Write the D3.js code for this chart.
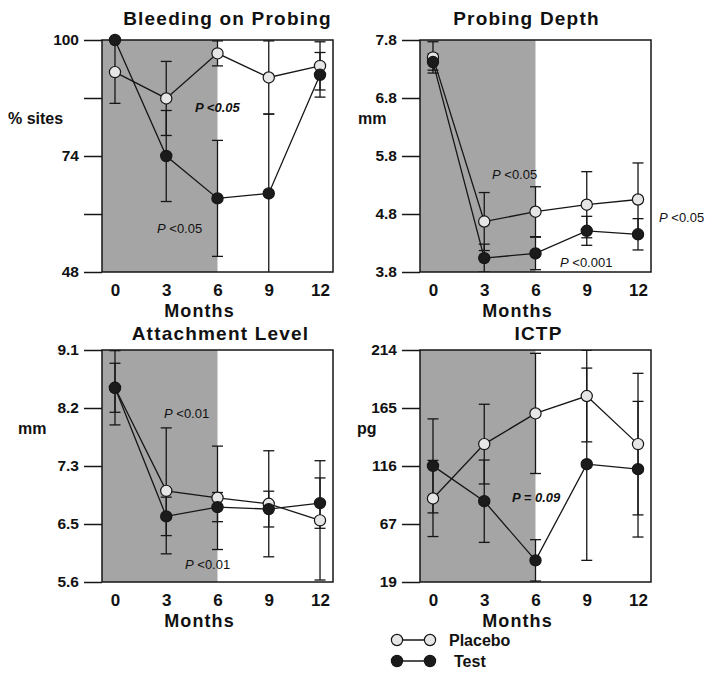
<!DOCTYPE html>
<html><head><meta charset="utf-8">
<script src="https://cdn.jsdelivr.net/npm/d3@7"></script>
<style>
body{margin:0;background:#fff}
svg{display:block}
text{font-family:"Liberation Sans",Arial,Helvetica,sans-serif;fill:#111}
</style>
</head><body>
<svg id="c" width="714" height="677"></svg>
<script>
// ---------------- data ----------------
const months = [0, 3, 6, 9, 12];
const xTickLabels = ["0", "3", "6", "9", "12"];

// Bleeding on Probing (% sites)
const bopPlacebo    = [92.8, 86.9, 97.0, 91.6, 94.2];
const bopPlaceboErr = [7.0, 8.3, 2.8, 8.2, 5.4];
const bopTest       = [100.0, 74.0, 64.5, 65.6, 92.2];
const bopTestErr    = [0, 10.2, 13.0, 17.8, 5.0];
const bopYTicks     = ["100", "", "74", "", "48"];
const bopNotes      = ["<0.05", "<0.05"];

// Probing Depth (mm)
const pdPlacebo    = [7.50, 4.67, 4.84, 4.96, 5.05];
const pdPlaceboErr = [0.27, 0.50, 0.43, 0.57, 0.63];
const pdTest       = [7.42, 4.04, 4.12, 4.51, 4.45];
const pdTestErr    = [0.14, 0.24, 0.28, 0.25, 0.27];
const pdYTicks     = ["7.8", "6.8", "5.8", "4.8", "3.8"];
const pdNotes      = ["<0.05", "<0.001", "<0.05"];

// Attachment Level (mm)
const alPlacebo    = [8.53, 6.975, 6.87, 6.78, 6.53];
const alPlaceboErr = [0.56, 0.95, 0.78, 0.80, 0.90];
const alTest       = [8.53, 6.59, 6.73, 6.70, 6.79];
const alTestErr    = [0.37, 0.29, 0.22, 0.27, 0.38];
const alYTicks     = ["9.1", "8.2", "7.3", "6.5", "5.6"];
const alNotes      = ["<0.01", "<0.01"];

// ICTP (pg)
const ictpPlacebo    = [89.2, 134.9, 160.7, 175.3, 134.9];
const ictpPlaceboErr = [32.0, 33.5, 50.5, 38.5, 59.5];
const ictpTest       = [116.6, 86.9, 37.2, 118.0, 113.8];
const ictpTestErr    = [39.5, 34.6, 17.4, 80.8, 57.0];
const ictpYTicks     = ["214", "165", "116", "67", "19"];
const ictpNotes      = ["= 0.09"];

const seriesNames = ["Placebo", "Test"];
const shadeUntil = 6;

// ---------------- chart ----------------
const panels = [
  {title: "Bleeding on Probing", yLabel: "% sites", domain: [48, 100], ticks: bopYTicks,
   placebo: bopPlacebo, placeboErr: bopPlaceboErr, test: bopTest, testErr: bopTestErr, notes: bopNotes},
  {title: "Probing Depth", yLabel: "mm", domain: [3.8, 7.8], ticks: pdYTicks,
   placebo: pdPlacebo, placeboErr: pdPlaceboErr, test: pdTest, testErr: pdTestErr, notes: pdNotes},
  {title: "Attachment Level", yLabel: "mm", domain: [5.6, 9.1], ticks: alYTicks,
   placebo: alPlacebo, placeboErr: alPlaceboErr, test: alTest, testErr: alTestErr, notes: alNotes},
  {title: "ICTP", yLabel: "pg", domain: [19, 214], ticks: ictpYTicks,
   placebo: ictpPlacebo, placeboErr: ictpPlaceboErr, test: ictpTest, testErr: ictpTestErr, notes: ictpNotes}
];

const layout = [
  {left: 102, top: 40, titleDx: 10, titleDy: -15, yLabelDx: -94,
   notes: [{dx: 93, dy: 72, allItalic: true, bold: true}, {dx: 55, dy: 193}]},
  {left: 420, top: 40, titleDx: -9, titleDy: -15, yLabelDx: -62,
   notes: [{dx: 72, dy: 139}, {dx: 140, dy: 227}, {dx: 239, dy: 182}]},
  {left: 102, top: 350, titleDx: 3, titleDy: -10.5, yLabelDx: -84,
   notes: [{dx: 62, dy: 67.5}, {dx: 83, dy: 219}]},
  {left: 420, top: 350, titleDx: 3, titleDy: -10.5, yLabelDx: -63,
   notes: [{dx: 92, dy: 151.5, allItalic: true, bold: true}]}
];

const W = 231, H = 232;
const xDomain = [-0.76, 12.76];
const ink = "#161616";
const shadeColor = "#a5a5a5";
const placeboFill = "#e6e6e6";
const testFill = "#1b1b1b";
const R = 5.6, CAP = 5.5;

const svg = d3.select("#c");
const defs = svg.append("defs");

panels.forEach((p, pi) => {
  const L = layout[pi];
  const g = svg.append("g").attr("transform", `translate(${L.left},${L.top})`);
  const x = d3.scaleLinear().domain(xDomain).range([0, W]);
  const y = d3.scaleLinear().domain(p.domain).range([H, 0]);

  const clipId = "clip" + pi;
  defs.append("clipPath").attr("id", clipId)
    .append("rect").attr("x", 0).attr("y", 0).attr("width", W).attr("height", H);

  // shaded treatment period
  g.append("rect")
    .attr("x", x(xDomain[0])).attr("y", 0)
    .attr("width", x(shadeUntil) - x(xDomain[0])).attr("height", H)
    .attr("fill", shadeColor);

  // frame
  g.append("rect").attr("x", 0).attr("y", 0).attr("width", W).attr("height", H)
    .attr("fill", "none").attr("stroke", ink).attr("stroke-width", 1.5);

  // y axis
  const n = p.ticks.length;
  const tv = d3.range(n).map(i => p.domain[1] - i * (p.domain[1] - p.domain[0]) / (n - 1));
  const yAxis = g.append("g").call(
    d3.axisLeft(y).tickValues(tv).tickSize(18).tickPadding(5).tickFormat((d, i) => p.ticks[i])
  );
  yAxis.select(".domain").remove();
  yAxis.selectAll(".tick line").attr("stroke", ink).attr("stroke-width", 1.5);
  yAxis.selectAll(".tick text").attr("font-size", 15.5).attr("font-weight", "bold")
    .attr("fill", "#111").style("font-family", '"Liberation Sans",Arial,sans-serif');

  // x axis (labels only)
  const xAxis = g.append("g").attr("transform", `translate(0,${H})`).call(
    d3.axisBottom(x).tickValues(months).tickSize(0).tickPadding(12).tickFormat((d, i) => xTickLabels[i])
  );
  xAxis.select(".domain").remove();
  xAxis.selectAll(".tick text").attr("font-size", 17).attr("font-weight", "bold")
    .attr("fill", "#111").style("font-family", '"Liberation Sans",Arial,sans-serif');

  g.append("text").attr("x", W / 2 - 18).attr("y", H + 45)
    .attr("text-anchor", "middle").attr("font-size", 18).attr("font-weight", "bold")
    .attr("letter-spacing", 1.1).text("Months");

  // title
  g.append("text").attr("x", W / 2 + L.titleDx).attr("y", L.titleDy)
    .attr("text-anchor", "middle").attr("font-size", 19).attr("font-weight", "bold")
    .attr("letter-spacing", 1.2).text(p.title);

  // y label
  g.append("text").attr("x", L.yLabelDx).attr("y", 78).attr("dy", "0.36em")
    .attr("font-size", 16).attr("font-weight", "bold").text(p.yLabel);

  const series = [
    {name: seriesNames[0], vals: p.placebo, errs: p.placeboErr, fill: placeboFill},
    {name: seriesNames[1], vals: p.test, errs: p.testErr, fill: testFill}
  ];

  const plot = g.append("g").attr("clip-path", `url(#${clipId})`);
  const line = d3.line().x((d, i) => x(months[i])).y(d => y(d));

  series.forEach(s => {
    plot.append("path").datum(s.vals).attr("d", line)
      .attr("fill", "none").attr("stroke", ink).attr("stroke-width", 1.3);
  });

  const [lo, hi] = p.domain;
  const eps = (hi - lo) * 0.002;
  series.forEach(s => {
    s.vals.forEach((v, i) => {
      const e = s.errs[i];
      if (!e) return;
      const cx = x(months[i]);
      plot.append("line").attr("x1", cx).attr("x2", cx)
        .attr("y1", y(v - e)).attr("y2", y(v + e))
        .attr("stroke", ink).attr("stroke-width", 1.3);
      [v - e, v + e].forEach(ev => {
        if (ev >= lo - eps && ev <= hi + eps) {
          plot.append("line").attr("x1", cx - CAP).attr("x2", cx + CAP)
            .attr("y1", y(ev)).attr("y2", y(ev))
            .attr("stroke", ink).attr("stroke-width", 1.3);
        }
      });
    });
  });

  series.forEach(s => {
    g.selectAll(null).data(s.vals).enter().append("circle")
      .attr("cx", (d, i) => x(months[i])).attr("cy", d => y(d)).attr("r", R)
      .attr("fill", s.fill).attr("stroke", ink).attr("stroke-width", 1.2);
  });

  // p-value notes
  p.notes.forEach((t, k) => {
    const nl = L.notes[k];
    const tx = g.append("text").attr("x", nl.dx).attr("y", nl.dy)
      .attr("font-size", 13).style("white-space", "pre")
      .attr("font-weight", nl.bold ? "bold" : "normal");
    tx.append("tspan").attr("font-style", "italic").text("P");
    tx.append("tspan").attr("font-style", nl.allItalic ? "italic" : "normal").text(" " + t);
  });
});

// legend
const legend = svg.append("g");
const legendRows = [
  {name: seriesNames[0], fill: placeboFill, y: 640, tx: 449},
  {name: seriesNames[1], fill: testFill, y: 661, tx: 454}
];
legendRows.forEach(r => {
  legend.append("line").attr("x1", 397).attr("x2", 430).attr("y1", r.y).attr("y2", r.y)
    .attr("stroke", ink).attr("stroke-width", 1.3);
  [397, 430].forEach(cx => legend.append("circle").attr("cx", cx).attr("cy", r.y).attr("r", R)
    .attr("fill", r.fill).attr("stroke", ink).attr("stroke-width", 1.2));
  legend.append("text").attr("x", r.tx).attr("y", r.y).attr("dy", "0.36em")
    .attr("font-size", 16).attr("font-weight", "bold").text(r.name);
});
</script>
</body></html>
